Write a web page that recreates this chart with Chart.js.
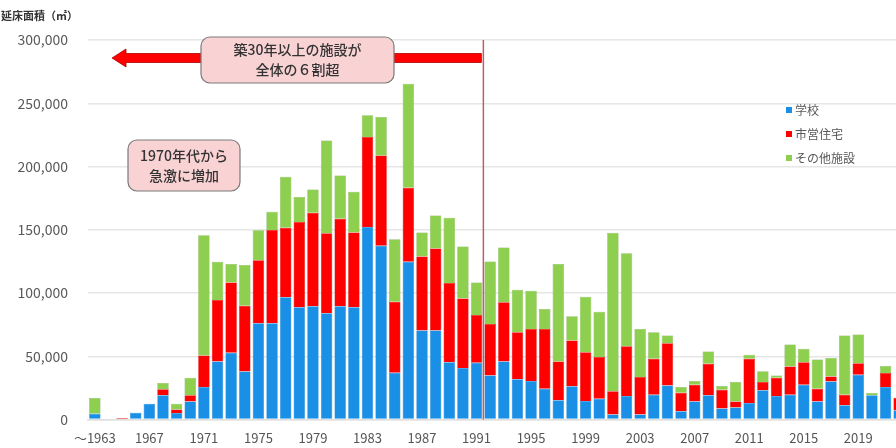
<!DOCTYPE html>
<html>
<head>
<meta charset="utf-8">
<script src="https://cdn.jsdelivr.net/npm/chart.js@4.4.0/dist/chart.umd.min.js"></script>
<style>
  body { margin: 0; overflow: hidden; background: #fff; }
  canvas { display: block; }
</style>
</head>
<body>
<canvas id="grafico" width="910" height="448"></canvas>
<script>
// Años (categorías del eje X)
const anios = ['～1963', '1964', '1965', '1966', '1967', '1968', '1969', '1970', '1971', '1972',
  '1973', '1974', '1975', '1976', '1977', '1978', '1979', '1980', '1981', '1982',
  '1983', '1984', '1985', '1986', '1987', '1988', '1989', '1990', '1991', '1992',
  '1993', '1994', '1995', '1996', '1997', '1998', '1999', '2000', '2001', '2002',
  '2003', '2004', '2005', '2006', '2007', '2008', '2009', '2010', '2011', '2012',
  '2013', '2014', '2015', '2016', '2017', '2018', '2019', '2020', '2021', '2022']

// 学校
const gakko = [4700, 0, 0, 5500, 12600, 19200, 5200, 14400, 25700, 45900,
  52800, 38100, 76100, 76100, 96600, 88700, 89500, 84000, 89500, 88700,
  152300, 137300, 37000, 124700, 70400, 70400, 45400, 40700, 44900, 34900,
  45900, 31800, 30500, 24400, 15200, 26300, 14700, 16500, 4000, 18600,
  4000, 19700, 27000, 6600, 14400, 19200, 8700, 9500, 13100, 23100,
  18600, 19700, 27600, 14400, 30200, 11300, 35400, 19200, 25700, 7400]

// 市営住宅
const shiei = [0, 0, 1200, 0, 0, 4700, 2700, 4800, 25000, 48600,
  55600, 51900, 49900, 73800, 55100, 67500, 74000, 63300, 69300, 59100,
  71100, 71400, 56200, 58500, 58500, 64800, 62500, 55100, 37800, 40700,
  46800, 37200, 41200, 47300, 30700, 36200, 38600, 32900, 18500, 39300,
  29600, 28300, 33400, 14700, 13200, 24900, 14900, 4900, 34900, 6600,
  14500, 22300, 17800, 10000, 3900, 8400, 9200, 0, 11100, 9900]

// その他施設
const sonota = [12400, 0, 0, 0, 0, 5000, 4700, 13900, 95000, 30200,
  14500, 32100, 23600, 14400, 40200, 19700, 18400, 73200, 34100, 32300,
  17100, 30400, 49300, 82200, 18900, 26200, 51700, 41000, 25700, 49400,
  43300, 33600, 30200, 15700, 77000, 19100, 43800, 35900, 125200, 73500,
  38100, 21000, 6000, 4400, 2900, 9700, 2900, 15300, 3200, 8600,
  1800, 17300, 10500, 23100, 14500, 46700, 22600, 1800, 5500, 0]

const fuente = '"Noto Sans CJK JP", "Noto Sans", sans-serif'

// Cajas de texto con esquinas redondeadas
function caja(ctx, x, y, w, h, lineas)
{
  ctx.save()
  ctx.beginPath()
  ctx.roundRect(x, y, w, h, 9)
  ctx.fillStyle = '#f9d2d4'
  ctx.fill()
  ctx.lineWidth = 1.2
  ctx.strokeStyle = '#7a7a7a'
  ctx.stroke()
  ctx.fillStyle = '#333'
  ctx.font = '500 14px ' + fuente
  ctx.textAlign = 'center'
  ctx.textBaseline = 'middle'
  lineas.forEach((t, i) => ctx.fillText(t, x + w / 2, y + h / 2 + (i - (lineas.length - 1) / 2) * 20))
  ctx.restore()
}

const anotaciones = {
  id: 'anotaciones',
  afterDatasetsDraw(chart) {
    const ctx = chart.ctx
    const xs = chart.scales.x
    const ys = chart.scales.y

    // Línea vertical entre 1991 y 1992
    const lineaX = (xs.getPixelForValue(28) + xs.getPixelForValue(29)) / 2
    ctx.save()
    ctx.beginPath()
    ctx.moveTo(lineaX, ys.getPixelForValue(300000))
    ctx.lineTo(lineaX, ys.getPixelForValue(0))
    ctx.lineWidth = 1.5
    ctx.strokeStyle = '#b8606e'
    ctx.stroke()

    // Flecha roja hacia la izquierda
    const yf = 58
    const punta = 112
    ctx.beginPath()
    ctx.moveTo(lineaX - 2, yf - 4.5)
    ctx.lineTo(punta + 14, yf - 4.5)
    ctx.lineTo(punta + 14, yf - 9)
    ctx.lineTo(punta, yf)
    ctx.lineTo(punta + 14, yf + 9)
    ctx.lineTo(punta + 14, yf + 4.5)
    ctx.lineTo(lineaX - 2, yf + 4.5)
    ctx.closePath()
    ctx.fillStyle = '#ff0000'
    ctx.fill()
    ctx.lineWidth = 0.8
    ctx.strokeStyle = '#b00000'
    ctx.stroke()
    ctx.restore()

    caja(ctx, 201, 37, 193, 46, ['築30年以上の施設が', '全体の６割超'])
    caja(ctx, 128, 140, 112, 51, ['1970年代から', '急激に増加'])

    // Leyenda
    ctx.save()
    ctx.font = '12px ' + fuente
    ctx.textBaseline = 'middle'
    chart.data.datasets.forEach((ds, i) => {
      const y = 110 + i * 24
      ctx.fillStyle = ds.backgroundColor
      ctx.fillRect(786, y - 3, 6, 6)
      ctx.fillStyle = '#595959'
      ctx.fillText(ds.label, 795, y)
    })

    // Título del eje Y
    ctx.font = 'bold 11px ' + fuente
    ctx.fillStyle = '#333'
    ctx.textBaseline = 'middle'
    ctx.fillText('延床面積（㎡）', 1, 16)
    ctx.restore()
  }
}

const grafico = new Chart(document.getElementById('grafico'), {
  type: 'bar',
  data: {
    labels: anios,
    datasets: [
      { label: '学校', data: gakko, backgroundColor: '#1a8fe6', borderColor: '#1580d0', borderWidth: 0.5 },
      { label: '市営住宅', data: shiei, backgroundColor: '#ff0000', borderColor: '#d00000', borderWidth: 0.5 },
      { label: 'その他施設', data: sonota, backgroundColor: '#8fcf50', borderColor: '#78a848', borderWidth: 0.5 }
    ]
  },
  options: {
    responsive: false,
    animation: false,
    barPercentage: 0.84,
    categoryPercentage: 1,
    layout: { padding: { top: 40, right: 4 } },
    plugins: {
      legend: { display: false },
      tooltip: { enabled: false }
    },
    scales: {
      x: {
        stacked: true,
        grid: { display: false },
        border: { color: '#e0e0e0', width: 1.5 },
        ticks: {
          autoSkip: false,
          maxRotation: 0,
          padding: 3,
          color: '#555',
          font: { family: fuente, size: 13 },
          callback: (v, i) => i % 4 === 0 ? anios[i] : ''
        },
        afterFit: (s) => { s.height = 27 }
      },
      y: {
        stacked: true,
        min: 0,
        max: 300000,
        grid: { color: '#e6e6e6', lineWidth: 1.5, drawTicks: false },
        border: { display: false },
        ticks: {
          stepSize: 50000,
          padding: 20,
          color: '#595959',
          font: { family: fuente, size: 14 },
          callback: (v) => v.toLocaleString('en-US')
        },
        afterFit: (s) => { s.width = 88 }
      }
    }
  },
  plugins: [anotaciones]
})
</script>
</body>
</html>
